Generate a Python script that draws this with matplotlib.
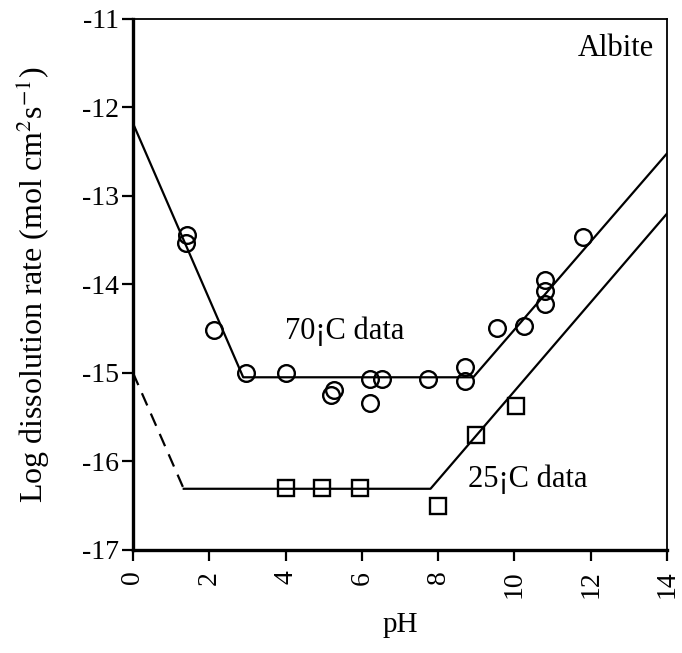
import numpy as np
import matplotlib.pyplot as plt

plt.rcParams['font.family'] = ['Liberation Serif', 'DejaVu Serif']
plt.rcParams['mathtext.fontset'] = 'stix'
plt.rcParams['axes.unicode_minus'] = False

# 70 C data (circles)
ph_70 = [1.42, 1.38, 2.13, 2.97, 4.0, 5.2, 5.28, 6.22, 6.22, 6.54, 7.74, 8.71, 8.71, 9.55, 10.26, 10.81, 10.81, 10.81, 11.81]
rate_70 = [-13.44, -13.53, -14.51, -15.0, -15.0, -15.25, -15.19, -15.34, -15.07, -15.07, -15.07, -14.93, -15.09, -14.49, -14.47, -13.95, -14.07, -14.22, -13.47]

# 25 C data (squares)
ph_25 = [4.0, 4.95, 5.95, 8.0, 9.0, 10.05]
rate_25 = [-16.3, -16.3, -16.3, -16.51, -15.7, -15.37]

# fitted lines
fit70_x = [0, 2.89, 8.92, 14]
fit70_y = [-12.18, -15.05, -15.05, -12.52]
fit25_dash_x = [0, 1.33]
fit25_dash_y = [-15.0, -16.31]
fit25_x = [1.33, 7.8, 14]
fit25_y = [-16.31, -16.31, -13.2]

fig = plt.figure(figsize=(6.82, 6.53), dpi=100)
ax = fig.add_axes([0.195, 0.158, 0.783, 0.813])

ax.plot(fit70_x, fit70_y, color='black', lw=1.6)
ax.plot(fit25_x, fit25_y, color='black', lw=1.6)
ax.plot(fit25_dash_x, fit25_dash_y, color='black', lw=1.6, ls=(0, (6, 4)))

ax.plot(ph_70, rate_70, 'o', ms=12, mfc='none', mec='black', mew=1.7)
ax.plot(ph_25, rate_25, 's', ms=11, mfc='none', mec='black', mew=1.7)

ax.text(5.56, -14.53, '70¡C data', fontsize=22, ha='center', va='center')
ax.text(10.34, -16.2, '25¡C data', fontsize=22, ha='center', va='center')
ax.text(13.65, -11.33, 'Albite', fontsize=22, ha='right', va='center')

ax.set_xlim(0, 14)
ax.set_ylim(-17, -11)
ax.set_xticks(np.arange(0, 15, 2))
ax.set_yticks(np.arange(-17, -10, 1))
ax.tick_params(direction='out', length=8, width=1.6, labelsize=20, color='black')
ax.tick_params(axis='x', labelrotation=90, pad=7)
ax.tick_params(axis='y', pad=2)

ax.spines['left'].set_linewidth(2.4)
ax.spines['bottom'].set_linewidth(2.4)
ax.spines['top'].set_linewidth(1.3)
ax.spines['right'].set_linewidth(1.3)

ax.set_xlabel('pH', fontsize=21, labelpad=10)
ax.set_ylabel(r'Log dissolution rate (mol cm$^{2}$s$^{-1}$)', fontsize=23, labelpad=22)

fig.savefig('out.png', dpi=100)
